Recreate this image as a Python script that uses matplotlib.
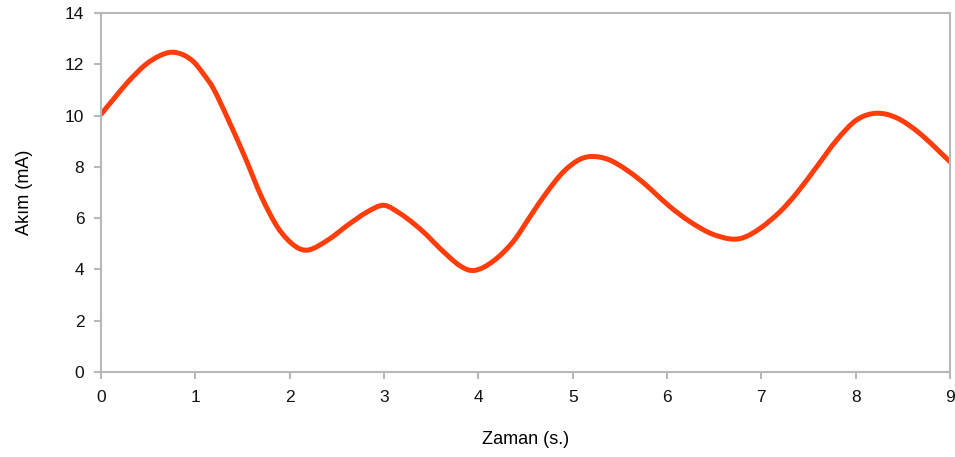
import matplotlib
matplotlib.use('Agg')
import matplotlib.pyplot as plt
from matplotlib.path import Path
from matplotlib.patches import PathPatch

# values
zaman = [0.0, 0.15, 0.29, 0.47, 0.62, 0.75, 0.87, 0.98, 1.08, 1.19, 1.35, 1.53, 1.70, 1.88,
         2.06, 2.2, 2.41, 2.62, 2.83, 3.0, 3.17, 3.31, 3.45, 3.59, 3.81, 3.96,
         4.16, 4.37, 4.55, 4.72, 4.90, 5.08, 5.24, 5.43, 5.71, 6.03, 6.24, 6.46,
         6.67, 6.81, 6.99, 7.2, 7.38, 7.59, 7.80, 8.01, 8.22, 8.44, 8.68, 9.0]
akim = [10.05, 10.72, 11.33, 11.98, 12.33, 12.47, 12.37, 12.1, 11.65, 11.06, 9.83, 8.34, 6.84, 5.6,
        4.9, 4.76, 5.16, 5.74, 6.26, 6.5, 6.18, 5.8, 5.35, 4.83, 4.13, 3.96,
        4.33, 5.09, 6.07, 6.98, 7.8, 8.3, 8.4, 8.2, 7.5, 6.45, 5.87, 5.41,
        5.19, 5.24, 5.61, 6.26, 7.0, 8.02, 9.05, 9.83, 10.09, 9.9, 9.3, 8.2]

x_ticks = list(range(0, 10))
y_ticks = list(range(0, 15, 2))


def smooth_path(xs, ys):
    # cubic Hermite segments (as Bezier curves) through the read points
    n = len(xs)
    slopes = []
    for i in range(n):
        a = max(i - 1, 0)
        b = min(i + 1, n - 1)
        slopes.append((ys[b] - ys[a]) / (xs[b] - xs[a]))
    verts = [(xs[0], ys[0])]
    codes = [Path.MOVETO]
    for i in range(n - 1):
        h = (xs[i + 1] - xs[i]) / 3
        verts += [(xs[i] + h, ys[i] + slopes[i] * h),
                  (xs[i + 1] - h, ys[i + 1] - slopes[i + 1] * h),
                  (xs[i + 1], ys[i + 1])]
        codes += [Path.CURVE4] * 3
    return Path(verts, codes)


plt.rcParams['font.family'] = ['Liberation Sans', 'DejaVu Sans']

fig = plt.figure(figsize=(9.55, 4.57), dpi=100)
ax = fig.add_axes([0.1058, 0.186, 0.889, 0.7856])

ax.add_patch(PathPatch(smooth_path(zaman, akim), facecolor='none',
                       edgecolor='#ff3d0a', linewidth=3.6, capstyle='round'))

ax.set_xlim(0, 9)
ax.set_ylim(0, 14)
ax.set_xticks(x_ticks)
ax.set_yticks(y_ticks)

for s in ax.spines.values():
    s.set_color('#b8b8b8')
    s.set_linewidth(1.5)
ax.tick_params(direction='out', length=5, width=1.5, color='#b8b8b8',
               labelsize=12.5, labelcolor='#111111')
ax.tick_params(axis='x', pad=8)
ax.tick_params(axis='y', pad=7)

ax.set_xlabel('Zaman (s.)', fontsize=13, labelpad=19)
ax.set_ylabel('Akım (mA)', fontsize=13, labelpad=23)

fig.savefig('out.png', dpi=100)
